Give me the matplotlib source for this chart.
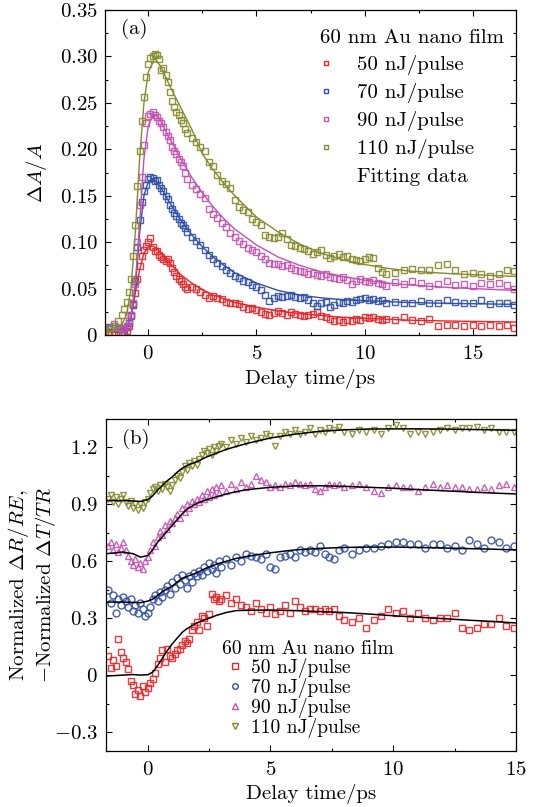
import matplotlib
matplotlib.use('Agg')
import matplotlib.pyplot as plt
from matplotlib.lines import Line2D
from matplotlib.ticker import MultipleLocator

plt.rcParams['font.family'] = 'serif'
plt.rcParams['font.serif'] = ['cmr10']
plt.rcParams['mathtext.fontset'] = 'cm'
plt.rcParams['axes.unicode_minus'] = False
plt.rcParams['axes.formatter.use_mathtext'] = True

# ---------------- panel (a): transient absorption ----------------
t_a = [-2.0, -1.8, -1.6, -1.4, -1.2, -1.1, -1.0, -0.9, -0.8, -0.7, -0.6, -0.5, -0.4, -0.3, -0.2, -0.1,
       0.0, 0.1, 0.2, 0.3, 0.4, 0.5, 0.6, 0.7, 0.8, 0.9, 1.0, 1.1, 1.2, 1.3, 1.4, 1.5, 1.6, 1.7, 1.8,
       2.0, 2.2, 2.4, 2.6, 2.8, 3.0, 3.2, 3.4, 3.6, 3.8, 4.0, 4.2, 4.4, 4.6, 4.8, 5.0, 5.2, 5.4, 5.6, 5.8,
       6.0, 6.2, 6.4, 6.6, 6.8, 7.0, 7.2, 7.4, 7.6, 7.8, 8.0, 8.2, 8.4, 8.6, 8.8, 9.0, 9.2, 9.4, 9.6, 9.8,
       10.0, 10.2, 10.4, 10.6, 10.8, 11.0, 11.4, 11.8, 12.2, 12.6, 13.0, 13.4, 13.8, 14.2, 14.6, 15.0,
       15.4, 15.8, 16.2, 16.6, 16.9]

a50 = [0.002, 0.003, 0.002, 0.003, 0.002, 0.003, 0.004, 0.010, 0.022, 0.033, 0.045, 0.060, 0.074, 0.085, 0.092, 0.096,
       0.100, 0.104, 0.095, 0.091, 0.090, 0.086, 0.084, 0.082, 0.080, 0.082, 0.078, 0.072, 0.068, 0.064, 0.060, 0.058, 0.055, 0.052, 0.050,
       0.052, 0.050, 0.046, 0.043, 0.040, 0.042, 0.040, 0.039, 0.036, 0.034, 0.035, 0.033, 0.030, 0.028, 0.029, 0.027, 0.025, 0.023, 0.022, 0.024,
       0.026, 0.024, 0.022, 0.025, 0.023, 0.022, 0.021, 0.022, 0.023, 0.025, 0.021, 0.019, 0.017, 0.015, 0.016, 0.014, 0.016, 0.015, 0.017, 0.016,
       0.019, 0.018, 0.019, 0.017, 0.016, 0.017, 0.016, 0.019, 0.016, 0.015, 0.017, 0.010, 0.011, 0.011, 0.010, 0.011,
       0.010, 0.011, 0.010, 0.011, 0.008]

a70 = [0.008, 0.009, 0.008, 0.007, 0.006, 0.007, 0.009, 0.013, 0.020, 0.032, 0.058, 0.095, 0.124, 0.143, 0.155, 0.162,
       0.168, 0.170, 0.169, 0.166, 0.167, 0.162, 0.158, 0.155, 0.150, 0.146, 0.140, 0.136, 0.131, 0.128, 0.125, 0.121, 0.118, 0.115, 0.111,
       0.106, 0.101, 0.097, 0.092, 0.086, 0.082, 0.078, 0.074, 0.070, 0.067, 0.064, 0.061, 0.058, 0.057, 0.054, 0.052, 0.048, 0.043, 0.037, 0.040,
       0.042, 0.041, 0.042, 0.043, 0.041, 0.040, 0.041, 0.038, 0.034, 0.031, 0.034, 0.036, 0.030, 0.032, 0.036, 0.035, 0.037, 0.036, 0.038, 0.039,
       0.040, 0.038, 0.039, 0.037, 0.038, 0.035, 0.036, 0.034, 0.035, 0.037, 0.034, 0.035, 0.038, 0.036, 0.034, 0.035,
       0.038, 0.033, 0.035, 0.034, 0.032]

a90 = [0.006, 0.008, 0.012, 0.008, 0.007, 0.008, 0.010, 0.015, 0.022, 0.035, 0.055, 0.100, 0.140, 0.170, 0.205, 0.228,
       0.236, 0.238, 0.240, 0.237, 0.235, 0.231, 0.228, 0.224, 0.219, 0.214, 0.210, 0.203, 0.198, 0.195, 0.190, 0.186, 0.182, 0.175, 0.168,
       0.162, 0.157, 0.152, 0.148, 0.136, 0.130, 0.126, 0.121, 0.116, 0.110, 0.106, 0.101, 0.098, 0.094, 0.092, 0.089, 0.085, 0.082, 0.078, 0.077,
       0.076, 0.074, 0.075, 0.072, 0.070, 0.069, 0.068, 0.066, 0.067, 0.065, 0.064, 0.066, 0.063, 0.061, 0.060, 0.062, 0.059, 0.055, 0.058, 0.060,
       0.058, 0.057, 0.059, 0.056, 0.055, 0.053, 0.057, 0.055, 0.058, 0.056, 0.053, 0.055, 0.058, 0.054, 0.055, 0.053,
       0.056, 0.055, 0.056, 0.054, 0.050]

a110 = [0.006, 0.007, 0.010, 0.015, 0.022, 0.028, 0.036, 0.046, 0.060, 0.085, 0.118, 0.160, 0.198, 0.230, 0.256, 0.278,
        0.292, 0.298, 0.300, 0.303, 0.302, 0.297, 0.285, 0.288, 0.280, 0.272, 0.262, 0.252, 0.246, 0.240, 0.237, 0.232, 0.228, 0.222, 0.218,
        0.212, 0.208, 0.202, 0.198, 0.186, 0.182, 0.172, 0.166, 0.163, 0.158, 0.145, 0.138, 0.135, 0.132, 0.125, 0.122, 0.119, 0.108, 0.106, 0.104,
        0.106, 0.110, 0.103, 0.097, 0.096, 0.094, 0.093, 0.090, 0.087, 0.089, 0.092, 0.086, 0.083, 0.085, 0.087, 0.084, 0.085, 0.082, 0.081, 0.080,
        0.082, 0.084, 0.083, 0.072, 0.068, 0.066, 0.067, 0.070, 0.071, 0.070, 0.070, 0.075, 0.076, 0.070, 0.066, 0.067,
        0.066, 0.064, 0.066, 0.070, 0.069]

fit_ta = [-2.0, -1.4, -1.2, -1.0, -0.8, -0.6, -0.4, -0.2, 0.0, 0.2, 0.4, 0.6, 0.8, 1.0, 1.5, 2.0, 2.5, 3.0,
          3.5, 4.0, 5.0, 6.0, 7.0, 8.0, 9.0, 10.0, 11.0, 12.0, 14.0, 17.0]
fit_a50 = [0.003, 0.003, 0.004, 0.006, 0.018, 0.045, 0.070, 0.088, 0.095, 0.096, 0.093, 0.088, 0.082, 0.077, 0.065, 0.056,
           0.049, 0.043, 0.039, 0.035, 0.030, 0.026, 0.023, 0.021, 0.019, 0.018, 0.017, 0.016, 0.015, 0.014]
fit_a70 = [0.006, 0.006, 0.007, 0.009, 0.018, 0.050, 0.110, 0.150, 0.165, 0.168, 0.165, 0.158, 0.150, 0.142, 0.124, 0.108,
           0.095, 0.084, 0.075, 0.067, 0.056, 0.048, 0.043, 0.040, 0.038, 0.037, 0.036, 0.035, 0.034, 0.033]
fit_a90 = [0.004, 0.004, 0.005, 0.008, 0.020, 0.055, 0.120, 0.190, 0.225, 0.236, 0.236, 0.229, 0.220, 0.211, 0.190, 0.170,
           0.153, 0.138, 0.125, 0.114, 0.097, 0.084, 0.075, 0.068, 0.063, 0.059, 0.056, 0.054, 0.051, 0.048]
fit_a110 = [0.004, 0.005, 0.012, 0.022, 0.050, 0.110, 0.190, 0.250, 0.283, 0.293, 0.295, 0.288, 0.278, 0.268, 0.245, 0.222,
            0.195, 0.178, 0.163, 0.150, 0.127, 0.111, 0.098, 0.088, 0.081, 0.076, 0.072, 0.069, 0.066, 0.063]

# ---------------- panel (b): normalized reflection / transmission ----------------
t_b = [-1.6, -1.5, -1.4, -1.3, -1.2, -1.1, -1.0, -0.9, -0.8, -0.7, -0.6, -0.5, -0.4, -0.3, -0.2, -0.1,
       0.0, 0.1, 0.2, 0.3, 0.4, 0.5, 0.6, 0.7, 0.8, 0.9, 1.0, 1.1, 1.2, 1.3, 1.4, 1.5, 1.6, 1.7, 1.8, 1.9,
       2.0, 2.1, 2.2, 2.3, 2.4, 2.5, 2.6, 2.7, 2.8, 2.9, 3.0,
       3.2, 3.4, 3.6, 3.8, 4.0, 4.2, 4.4, 4.6, 4.8, 5.0, 5.2, 5.4, 5.6, 5.8, 6.0, 6.2, 6.4, 6.6, 6.8, 7.0,
       7.2, 7.4, 7.6, 7.8, 8.0,
       8.3, 8.6, 8.9, 9.2, 9.5, 9.8, 10.1, 10.4, 10.7, 11.0, 11.3, 11.6, 11.9, 12.2, 12.5, 12.8, 13.1,
       13.4, 13.7, 14.0, 14.3, 14.6, 14.9]

b50 = [0.10, 0.04, 0.08, 0.05, 0.19, 0.12, 0.09, 0.07, 0.03, -0.03, -0.05, -0.10, -0.08, -0.11, -0.06, -0.09,
       -0.07, -0.04, -0.02, 0.01, 0.06, 0.09, 0.13, 0.07, 0.14, 0.10, 0.09, 0.11, 0.13, 0.14, 0.16, 0.18, 0.17, 0.19, 0.24, 0.26,
       0.28, 0.24, 0.31, 0.30, 0.26, 0.32, 0.43, 0.40, 0.41, 0.39, 0.40,
       0.42, 0.38, 0.40, 0.37, 0.36, 0.34, 0.38, 0.35, 0.33, 0.36, 0.32, 0.34, 0.37, 0.33, 0.39, 0.36, 0.34, 0.35, 0.35, 0.34,
       0.35, 0.34, 0.35, 0.31, 0.29,
       0.28, 0.30, 0.25, 0.29, 0.31, 0.35, 0.33, 0.34, 0.30, 0.33, 0.30, 0.29, 0.30, 0.30, 0.33, 0.25, 0.24,
       0.25, 0.27, 0.27, 0.30, 0.26, 0.25]

b70 = [0.45, 0.38, 0.42, 0.33, 0.40, 0.37, 0.41, 0.39, 0.36, 0.40, 0.34, 0.37, 0.33, 0.38, 0.35, 0.31,
       0.33, 0.36, 0.40, 0.42, 0.39, 0.44, 0.41, 0.45, 0.47, 0.43, 0.49, 0.46, 0.51, 0.48, 0.53, 0.50, 0.46, 0.52, 0.49, 0.54,
       0.52, 0.55, 0.53, 0.57, 0.55, 0.59, 0.56, 0.58, 0.54, 0.60, 0.57,
       0.61, 0.58, 0.62, 0.60, 0.64, 0.63, 0.62, 0.61, 0.64, 0.57, 0.56, 0.62, 0.63, 0.64, 0.62, 0.66, 0.65, 0.66, 0.65, 0.68,
       0.64, 0.62, 0.61, 0.66, 0.67,
       0.64, 0.66, 0.67, 0.67, 0.68, 0.69, 0.70, 0.70, 0.69, 0.69, 0.67, 0.69, 0.69, 0.67, 0.68, 0.66, 0.71,
       0.69, 0.67, 0.71, 0.70, 0.67, 0.68]

b90 = [0.68, 0.70, 0.66, 0.69, 0.65, 0.67, 0.70, 0.66, 0.63, 0.60, 0.58, 0.61, 0.57, 0.59, 0.56, 0.60,
       0.62, 0.66, 0.70, 0.68, 0.73, 0.76, 0.74, 0.79, 0.77, 0.81, 0.80, 0.83, 0.85, 0.83, 0.88, 0.86, 0.90, 0.88, 0.92, 0.90,
       0.93, 0.91, 0.95, 0.93, 0.97, 0.94, 0.98, 0.95, 0.99, 0.96, 1.00,
       0.97, 1.01, 0.98, 1.02, 0.99, 1.01, 1.05, 1.03, 1.02, 0.99, 1.00, 0.99, 1.01, 1.00, 1.02, 1.01, 1.00, 1.01, 0.98, 0.97,
       0.99, 1.01, 1.00, 1.01, 0.99,
       1.00, 1.01, 0.99, 0.97, 0.96, 0.99, 1.00, 0.99, 0.99, 0.97, 0.99, 1.01, 0.99, 1.00, 0.99, 0.99, 0.98,
       0.98, 0.99, 0.98, 1.00, 1.01, 0.99]

b110 = [0.93, 0.95, 0.91, 0.94, 0.90, 0.93, 0.95, 0.91, 0.89, 0.92, 0.88, 0.90, 0.87, 0.90, 0.88, 0.91,
        0.93, 0.96, 0.98, 0.99, 0.97, 1.00, 0.98, 1.01, 0.99, 0.97, 1.00, 1.03, 1.05, 1.04, 1.07, 1.10, 1.08, 1.12, 1.10, 1.13,
        1.11, 1.14, 1.16, 1.18, 1.17, 1.19, 1.16, 1.20, 1.18, 1.21, 1.22,
        1.20, 1.24, 1.22, 1.25, 1.23, 1.26, 1.24, 1.25, 1.27, 1.26, 1.21, 1.26, 1.28, 1.27, 1.29, 1.27, 1.28, 1.30, 1.27, 1.29,
        1.28, 1.30, 1.29, 1.31, 1.28,
        1.27, 1.29, 1.28, 1.29, 1.27, 1.30, 1.32, 1.30, 1.27, 1.28, 1.27, 1.28, 1.29, 1.30, 1.29, 1.30, 1.30,
        1.31, 1.29, 1.30, 1.28, 1.28, 1.28]

fit_tb = [-1.7, -1.0, -0.6, -0.3, 0.0, 0.2, 0.4, 0.6, 0.8, 1.0, 1.2, 1.4, 1.6, 1.8, 2.0, 2.4, 2.8, 3.2,
          3.6, 4.0, 5.0, 6.0, 7.0, 8.0, 9.0, 10.0, 11.0, 12.0, 13.0, 14.0, 15.0]
fit_b50 = [-0.005, 0.000, 0.003, 0.000, 0.002, 0.015, 0.050, 0.090, 0.130, 0.165, 0.195, 0.225, 0.245, 0.260, 0.275,
           0.295, 0.315, 0.330, 0.340, 0.342, 0.343, 0.340, 0.335, 0.330, 0.322, 0.313, 0.305, 0.298, 0.290, 0.283, 0.275]
fit_b70 = [0.385, 0.385, 0.383, 0.382, 0.390, 0.400, 0.420, 0.440, 0.455, 0.470, 0.490, 0.510, 0.520, 0.530, 0.540,
           0.565, 0.585, 0.600, 0.615, 0.625, 0.645, 0.660, 0.668, 0.673, 0.675, 0.675, 0.673, 0.670, 0.667, 0.664, 0.660]
fit_b90 = [0.640, 0.648, 0.640, 0.622, 0.630, 0.660, 0.700, 0.730, 0.760, 0.790, 0.820, 0.850, 0.875, 0.890, 0.905,
           0.925, 0.940, 0.955, 0.967, 0.977, 0.990, 0.997, 0.998, 0.995, 0.990, 0.985, 0.978, 0.972, 0.966, 0.960, 0.955]
fit_b110 = [0.920, 0.920, 0.918, 0.915, 0.925, 0.945, 0.975, 1.000, 1.025, 1.045, 1.070, 1.090, 1.105, 1.115, 1.125,
            1.150, 1.170, 1.190, 1.205, 1.220, 1.250, 1.270, 1.285, 1.293, 1.297, 1.298, 1.298, 1.297, 1.295, 1.293, 1.290]

labels = ['50 nJ/pulse', '70 nJ/pulse', '90 nJ/pulse', '110 nJ/pulse']
colors = ['#e8262a', '#2f4fa8', '#c450b0', '#858a2a']
markers_b = ['s', 'o', '^', 'v']

FS = 15


def style_axis(ax, xpad=7, ypad=5):
    ax.tick_params(which='both', direction='in', top=True, right=True, labelsize=FS)
    ax.tick_params(axis='x', which='both', pad=xpad)
    ax.tick_params(axis='y', which='both', pad=ypad)
    ax.tick_params(which='major', length=4.5, width=0.8)
    ax.tick_params(which='minor', length=2.5, width=0.8)
    for sp in ax.spines.values():
        sp.set_linewidth(0.9)


fig = plt.figure(figsize=(5.36, 8.07), dpi=100)

# ---- (a)
ax1 = fig.add_axes([105 / 536, 1 - 335 / 807, 411 / 536, 325 / 807])
series_a = [a50, a70, a90, a110]
fits_a = [fit_a50, fit_a70, fit_a90, fit_a110]
for y, yf, c in zip(series_a, fits_a, colors):
    ax1.plot(t_a, y, 's', ms=4.6, mfc='none', mec=c, mew=1.0, alpha=0.9)
    ax1.plot(fit_ta, yf, '-', color=c, lw=1.0)
ax1.set_xlim(-2, 17)
ax1.set_ylim(0, 0.35)
ax1.set_xticks([0, 5, 10, 15], labels=['$0$', '$5$', '$10$', '$15$'])
ax1.xaxis.set_minor_locator(MultipleLocator(2.5))
yt = [0, 0.05, 0.10, 0.15, 0.20, 0.25, 0.30, 0.35]
ax1.set_yticks(yt, labels=['$0$'] + ['$%.2f$' % v for v in yt[1:]])
ax1.yaxis.set_minor_locator(MultipleLocator(0.025))
style_axis(ax1)
ax1.set_xlabel('Delay time/ps', fontsize=FS)
ax1.xaxis.set_label_coords(0.5, -0.105)
ax1.set_ylabel(r'$\Delta A/A$', fontsize=FS)
ax1.yaxis.set_label_coords(-0.136, 0.5)
ax1.text(0.04, 0.925, '(a)', transform=ax1.transAxes, fontsize=FS)

handles = [Line2D([], [], ls='none', marker='s', ms=3.5, mfc='none', mec=c, mew=1.0) for c in colors]
handles.append(Line2D([], [], color='none'))
leg1 = ax1.legend(handles, labels + ['Fitting data'], title='60 nm Au nano film', loc='upper right',
                  bbox_to_anchor=(0.97, 0.94), frameon=False, fontsize=FS, title_fontsize=FS,
                  borderpad=0, borderaxespad=0, handlelength=0.6, handletextpad=1.2, labelspacing=0.38)
leg1._legend_box.align = 'left'

# ---- (b)
ax2 = fig.add_axes([106 / 536, 1 - 751 / 807, 410 / 536, 332 / 807])
series_b = [b50, b70, b90, b110]
fits_b = [fit_b50, fit_b70, fit_b90, fit_b110]
for y, c, m in zip(series_b, colors, markers_b):
    ax2.plot(t_b, y, m, ms=5.0, mfc='none', mec=c, mew=1.0, alpha=0.9)
for yf in fits_b:
    ax2.plot(fit_tb, yf, '-', color='black', lw=1.1)
ax2.set_xlim(-1.7, 15)
ax2.set_ylim(-0.4, 1.35)
ax2.set_xticks([0, 5, 10, 15], labels=['$0$', '$5$', '$10$', '$15$'])
ax2.xaxis.set_minor_locator(MultipleLocator(2.5))
ax2.set_yticks([-0.3, 0, 0.3, 0.6, 0.9, 1.2], labels=['$-0.3$', '$0$', '$0.3$', '$0.6$', '$0.9$', '$1.2$'])
ax2.yaxis.set_minor_locator(MultipleLocator(0.15))
style_axis(ax2, ypad=6)
ax2.set_xlabel('Delay time/ps', fontsize=FS)
ax2.xaxis.set_label_coords(0.5, -0.10)
ax2.set_ylabel('Normalized $\\Delta R/RE$,\n$-$Normalized $\\Delta T/TR$', fontsize=FS, linespacing=1.1)
ax2.yaxis.set_label_coords(-0.117, 0.5)
ax2.text(0.04, 0.925, '(b)', transform=ax2.transAxes, fontsize=FS)

handles_b = [Line2D([], [], ls='none', marker=m, ms=4.0, mfc='none', mec=c, mew=1.0)
             for c, m in zip(colors, markers_b)]
leg2 = ax2.legend(handles_b, labels, title='60 nm Au nano film', loc='upper left',
                  bbox_to_anchor=(0.283, 0.335), frameon=False, fontsize=14, title_fontsize=14,
                  borderpad=0, borderaxespad=0, handlelength=1.3, handletextpad=0.2, labelspacing=0.0)
leg2._legend_box.align = 'left'

fig.savefig('out.png', dpi=100)
